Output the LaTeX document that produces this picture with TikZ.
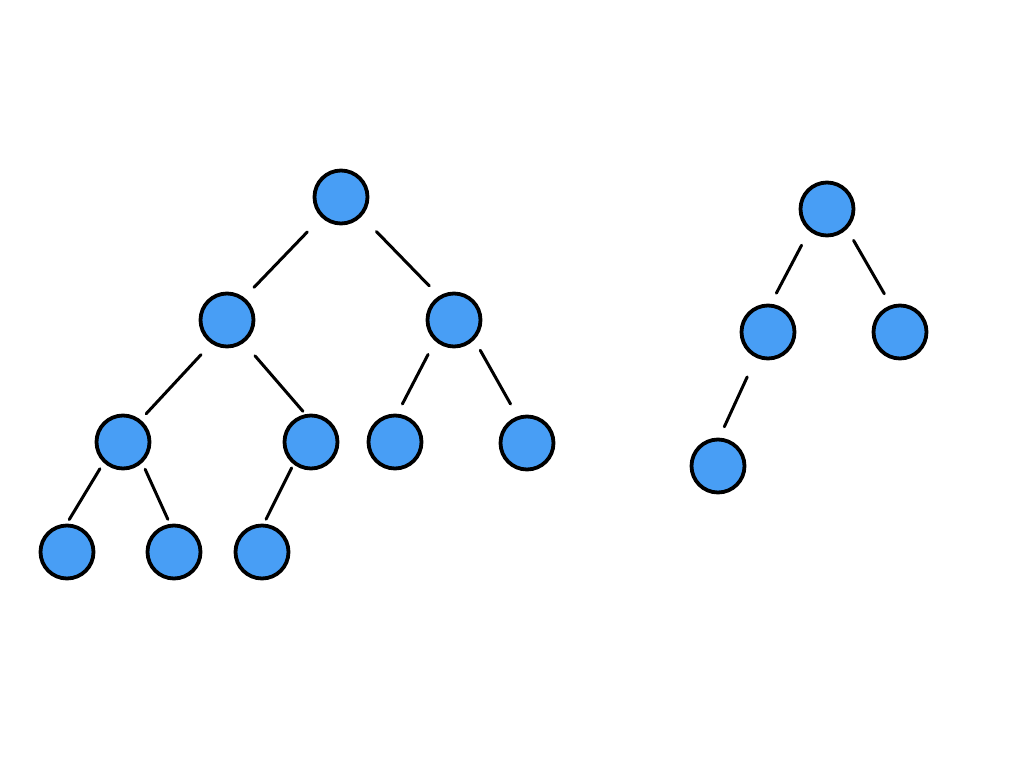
\documentclass[tikz,border=0pt]{standalone}
\definecolor{nodeblue}{RGB}{72,158,245}
\tikzset{
  treenode/.style={circle, draw=black, line width=3.8pt, fill=nodeblue, minimum size=53pt, inner sep=0pt, outer sep=0pt},
  con/.style={draw=black, line width=3pt, line cap=round}
}
\begin{document}
\begin{tikzpicture}[x=1pt,y=-1pt]
\useasboundingbox (0,0) rectangle (1024,768);
% left tree
\node[treenode] (A) at (341,197) {};
\node[treenode] (B) at (227,320) {};
\node[treenode] (C) at (454,320) {};
\node[treenode] (D) at (123,442) {};
\node[treenode] (E) at (311,442) {};
\node[treenode] (F) at (395,442) {};
\node[treenode] (G) at (527,443) {};
\node[treenode] (H) at (67,552) {};
\node[treenode] (I) at (174,552) {};
\node[treenode] (J) at (262,552) {};
% right tree
\node[treenode] (R) at (827,209) {};
\node[treenode] (S) at (768,332) {};
\node[treenode] (T) at (900,332) {};
\node[treenode] (U) at (718,466) {};
% connectors
\draw[con, shorten <=22pt, shorten >=16pt] (A.226) -- (B.53);
\draw[con, shorten <=23pt, shorten >=16pt] (A.317) -- (C.121);
\draw[con, shorten <=17pt, shorten >=10pt] (B.237) -- (D.52);
\draw[con, shorten <=19pt, shorten >=6pt] (B.306) -- (E.99);
\draw[con, shorten <=17pt, shorten >=13pt] (C.227) -- (F.87);
\draw[con, shorten <=14pt, shorten >=16pt] (C.317) -- (G.109);
\draw[con, shorten <=9pt, shorten >=7pt] (D.226) -- (H.93);
\draw[con, shorten <=9pt, shorten >=7pt] (D.314) -- (I.97);
\draw[con, shorten <=6pt, shorten >=7pt] (E.231) -- (J.88);
\draw[con, shorten <=18pt, shorten >=14pt] (R.230) -- (S.86);
\draw[con, shorten <=15pt, shorten >=15pt] (R.316) -- (T.108);
\draw[con, shorten <=23pt, shorten >=14pt] (S.245) -- (U.89);
\end{tikzpicture}
\end{document}
